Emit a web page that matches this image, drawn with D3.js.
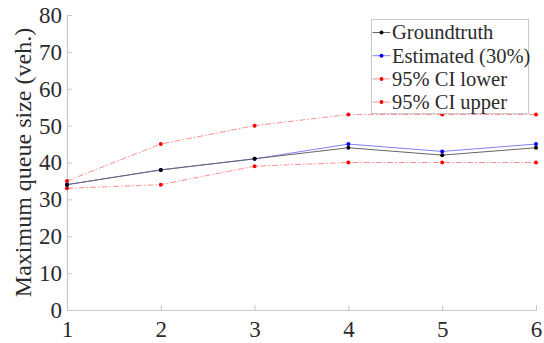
<!DOCTYPE html>
<html>
<head>
<meta charset="utf-8">
<script src="https://cdn.jsdelivr.net/npm/d3@7"></script>
<style>
  html, body { margin: 0; padding: 0; background: #fff; }
  svg { display: block; }
</style>
</head>
<body>
<svg id="chart" width="544" height="343"></svg>
<script>
// Scenario index along the x axis
const scenarios = [1, 2, 3, 4, 5, 6];
// Maximum queue size per scenario (vehicles)
const groundtruth = [34, 38, 41, 44, 42, 44];
const estimated = [34, 38, 41, 45, 43, 45];
const ciLower = [33, 34, 39, 40, 40, 40];
const ciUpper = [35, 45, 50, 53, 53, 53];
const yTicks = [0, 10, 20, 30, 40, 50, 60, 70, 80];
const seriesNames = ["Groundtruth", "Estimated (30%)", "95% CI lower", "95% CI upper"];

const FONT = '"Liberation Serif"';
const TEXT_COLOR = "#2b2b2b";

const series = [
  { name: seriesNames[0], values: groundtruth, color: "#000", lineColor: "#666", dash: null },
  { name: seriesNames[1], values: estimated, color: "#0000ff", lineColor: "#8080ff", dash: null },
  { name: seriesNames[2], values: ciLower, color: "#ff0000", lineColor: "#ff9090", dash: "6,2,1.5,2" },
  { name: seriesNames[3], values: ciUpper, color: "#ff0000", lineColor: "#ff9090", dash: "6,2,1.5,2" }
];

const svg = d3.select("#chart");
const margin = { left: 67, right: 8, top: 15, bottom: 33 };
const W = 544, H = 343;

const x = d3.scaleLinear().domain([1, 6]).range([margin.left, W - margin.right]);
const y = d3.scaleLinear().domain([0, 80]).range([H - margin.bottom, margin.top]);

const axisColor = "#c8c8c8";

// Axes with inward ticks
const gx = svg.append("g").attr("transform", `translate(0,${y(0)})`)
  .call(d3.axisBottom(x).tickValues(scenarios).tickFormat(d3.format("d")).tickSizeInner(-5).tickSizeOuter(0).tickPadding(11));
const gy = svg.append("g").attr("transform", `translate(${x(1)},0)`)
  .call(d3.axisLeft(y).tickValues(yTicks).tickSizeInner(-5).tickSizeOuter(0).tickPadding(5));

[gx, gy].forEach(g => {
  g.attr("font-family", null);
  g.select(".domain").attr("stroke", axisColor).attr("stroke-width", 1.2);
  g.selectAll(".tick line").attr("stroke", axisColor);
  g.selectAll(".tick text")
    .style("font-family", FONT)
    .style("font-size", "23px")
    .attr("fill", TEXT_COLOR);
});
gx.selectAll(".tick text").attr("dy", "0.71em");

// Y axis title
svg.append("text")
  .attr("transform", `translate(31,${(y(0) + y(80)) / 2}) rotate(-90)`)
  .attr("text-anchor", "middle")
  .style("font-family", FONT)
  .style("font-size", "24px")
  .attr("fill", TEXT_COLOR)
  .text("Maximum queue size (veh.)");

const line = d3.line().x((d, i) => x(scenarios[i])).y(d => y(d));

// CI lines first, then estimated, then groundtruth on top
const order = [3, 2, 1, 0];
order.forEach(k => {
  const s = series[k];
  svg.append("path")
    .datum(s.values)
    .attr("fill", "none")
    .attr("stroke", s.lineColor)
    .attr("stroke-width", 1)
    .attr("stroke-dasharray", s.dash)
    .attr("d", line);
});
order.forEach(k => {
  const s = series[k];
  svg.append("g").selectAll("circle")
    .data(s.values)
    .join("circle")
    .attr("cx", (d, i) => x(scenarios[i]))
    .attr("cy", d => y(d))
    .attr("r", 2)
    .attr("fill", s.color);
});

// Legend
const lg = svg.append("g").attr("transform", "translate(371.5,19.5)");
lg.append("rect").attr("width", 157).attr("height", 94)
  .attr("fill", "#fff").attr("stroke", "#c8c8c8").attr("stroke-width", 1);
series.forEach((s, i) => {
  const cy = 13 + i * 23.2;
  lg.append("line").attr("x1", 1).attr("x2", 19).attr("y1", cy).attr("y2", cy)
    .attr("stroke", s.lineColor).attr("stroke-dasharray", s.dash);
  lg.append("circle").attr("cx", 10).attr("cy", cy).attr("r", 2).attr("fill", s.color);
  lg.append("text").attr("x", 20.5).attr("y", cy).attr("dy", "0.34em")
    .style("font-family", FONT)
    .style("font-size", "20.5px")
    .attr("fill", TEXT_COLOR)
    .text(s.name);
});
</script>
</body>
</html>
